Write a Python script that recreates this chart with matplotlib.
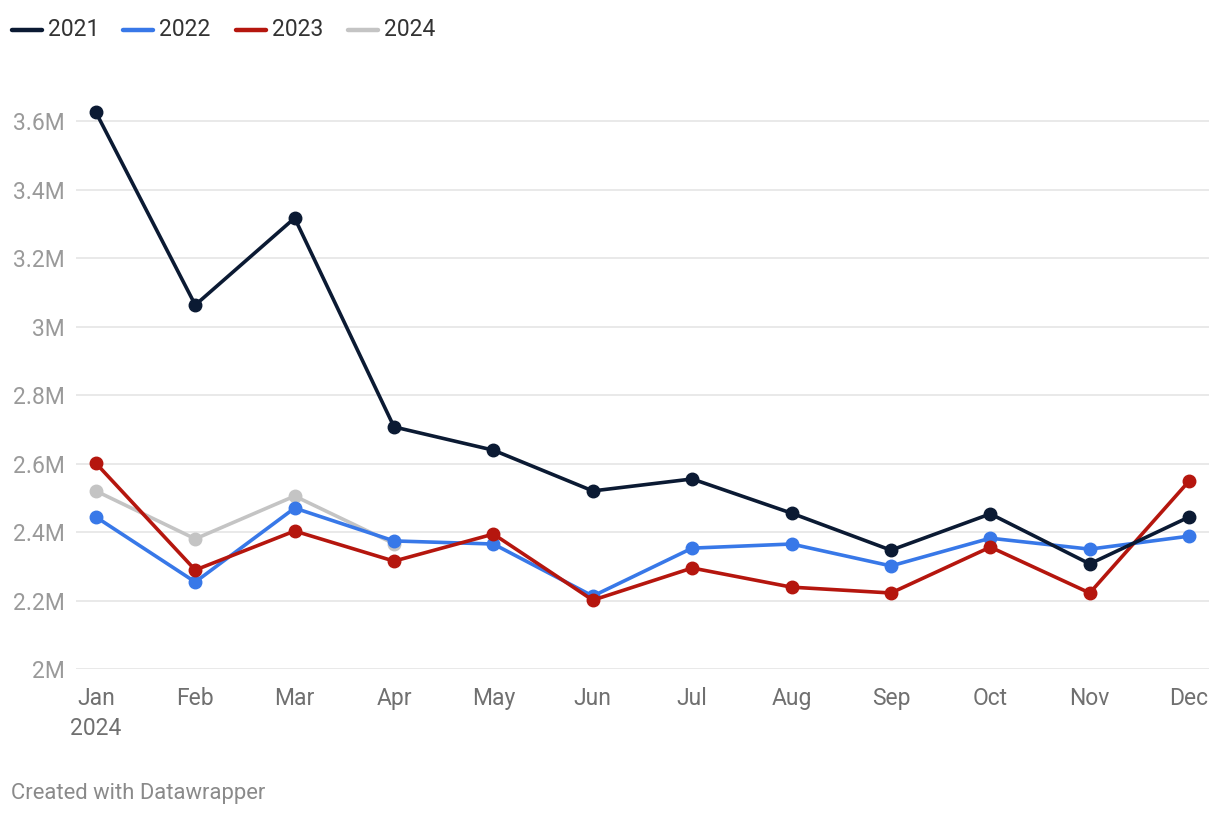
import matplotlib
matplotlib.use("Agg")
import matplotlib.pyplot as plt
from matplotlib.lines import Line2D
from matplotlib.ticker import FuncFormatter, FixedLocator

plt.rcParams['font.family'] = ['Roboto', 'DejaVu Sans']

months = ["Jan", "Feb", "Mar", "Apr", "May", "Jun", "Jul", "Aug", "Sep", "Oct", "Nov", "Dec"]
month_labels = ["Jan\n2024"] + months[1:]

s2021 = [3.626, 3.063, 3.317, 2.707, 2.639, 2.520, 2.555, 2.455, 2.347, 2.453, 2.307, 2.444]
s2022 = [2.444, 2.254, 2.470, 2.374, 2.365, 2.213, 2.353, 2.365, 2.301, 2.382, 2.350, 2.388]
s2023 = [2.601, 2.289, 2.403, 2.315, 2.394, 2.201, 2.295, 2.239, 2.222, 2.356, 2.222, 2.549]
s2024 = [2.520, 2.380, 2.505, 2.366]

series = [
    ("2024", s2024, "#c4c4c4", 2),
    ("2022", s2022, "#3878e8", 3),
    ("2023", s2023, "#b5160e", 4),
    ("2021", s2021, "#0b1a33", 5),
]
legend_order = ["2021", "2022", "2023", "2024"]
y_ticks = [2.0, 2.2, 2.4, 2.6, 2.8, 3.0, 3.2, 3.4, 3.6]

W, H = 1220, 816
fig = plt.figure(figsize=(W / 100, H / 100), dpi=100)
ax = fig.add_axes([76 / W, (H - 669) / H, (1209 - 76) / W, (669 - 104) / H])

x_idx = list(range(len(months)))
for name, vals, color, z in series:
    ax.plot(x_idx[:len(vals)], vals, color=color, lw=2.6, marker="o", ms=9,
            zorder=z, solid_capstyle="round", solid_joinstyle="round")

ax.set_xlim(-0.2, 11.2)
ax.set_ylim(2.0, 3.65)
ax.yaxis.set_major_locator(FixedLocator(y_ticks))

def fmt(v, pos):
    s = f"{v:.1f}"
    if s.endswith(".0"):
        s = s[:-2]
    return s + "M"

ax.yaxis.set_major_formatter(FuncFormatter(fmt))
ax.set_xticks(x_idx)
ax.set_xticklabels(month_labels)
ax.grid(axis="y", color="#e3e3e3", lw=1.1, zorder=0)
ax.set_axisbelow(True)
for sp in ax.spines.values():
    sp.set_visible(False)
ax.tick_params(axis="y", length=0, pad=8, labelsize=16.5, labelcolor="#9a9a9a")
ax.tick_params(axis="x", length=0, pad=13, labelsize=16.5, labelcolor="#707070")
for lbl in ax.get_xticklabels():
    lbl.set_linespacing(1.4)
    lbl.set_verticalalignment("top")

# legend
colors = {n: c for n, _, c, _ in series}
lx = [12, 123, 236, 348]
for name, x0 in zip(legend_order, lx):
    y = (H - 30) / H
    fig.add_artist(Line2D([x0 / W, (x0 + 30) / W], [y, y], color=colors[name], lw=3.2,
                          solid_capstyle="round", transform=fig.transFigure))
    fig.text((x0 + 36) / W, y, name, fontsize=16.5, color="#333333", va="center", ha="left")

fig.text(11 / W, (H - 793) / H, "Created with Datawrapper", fontsize=15.8, color="#8a8a8a",
         va="center", ha="left")

fig.savefig("out.png", dpi=100)
